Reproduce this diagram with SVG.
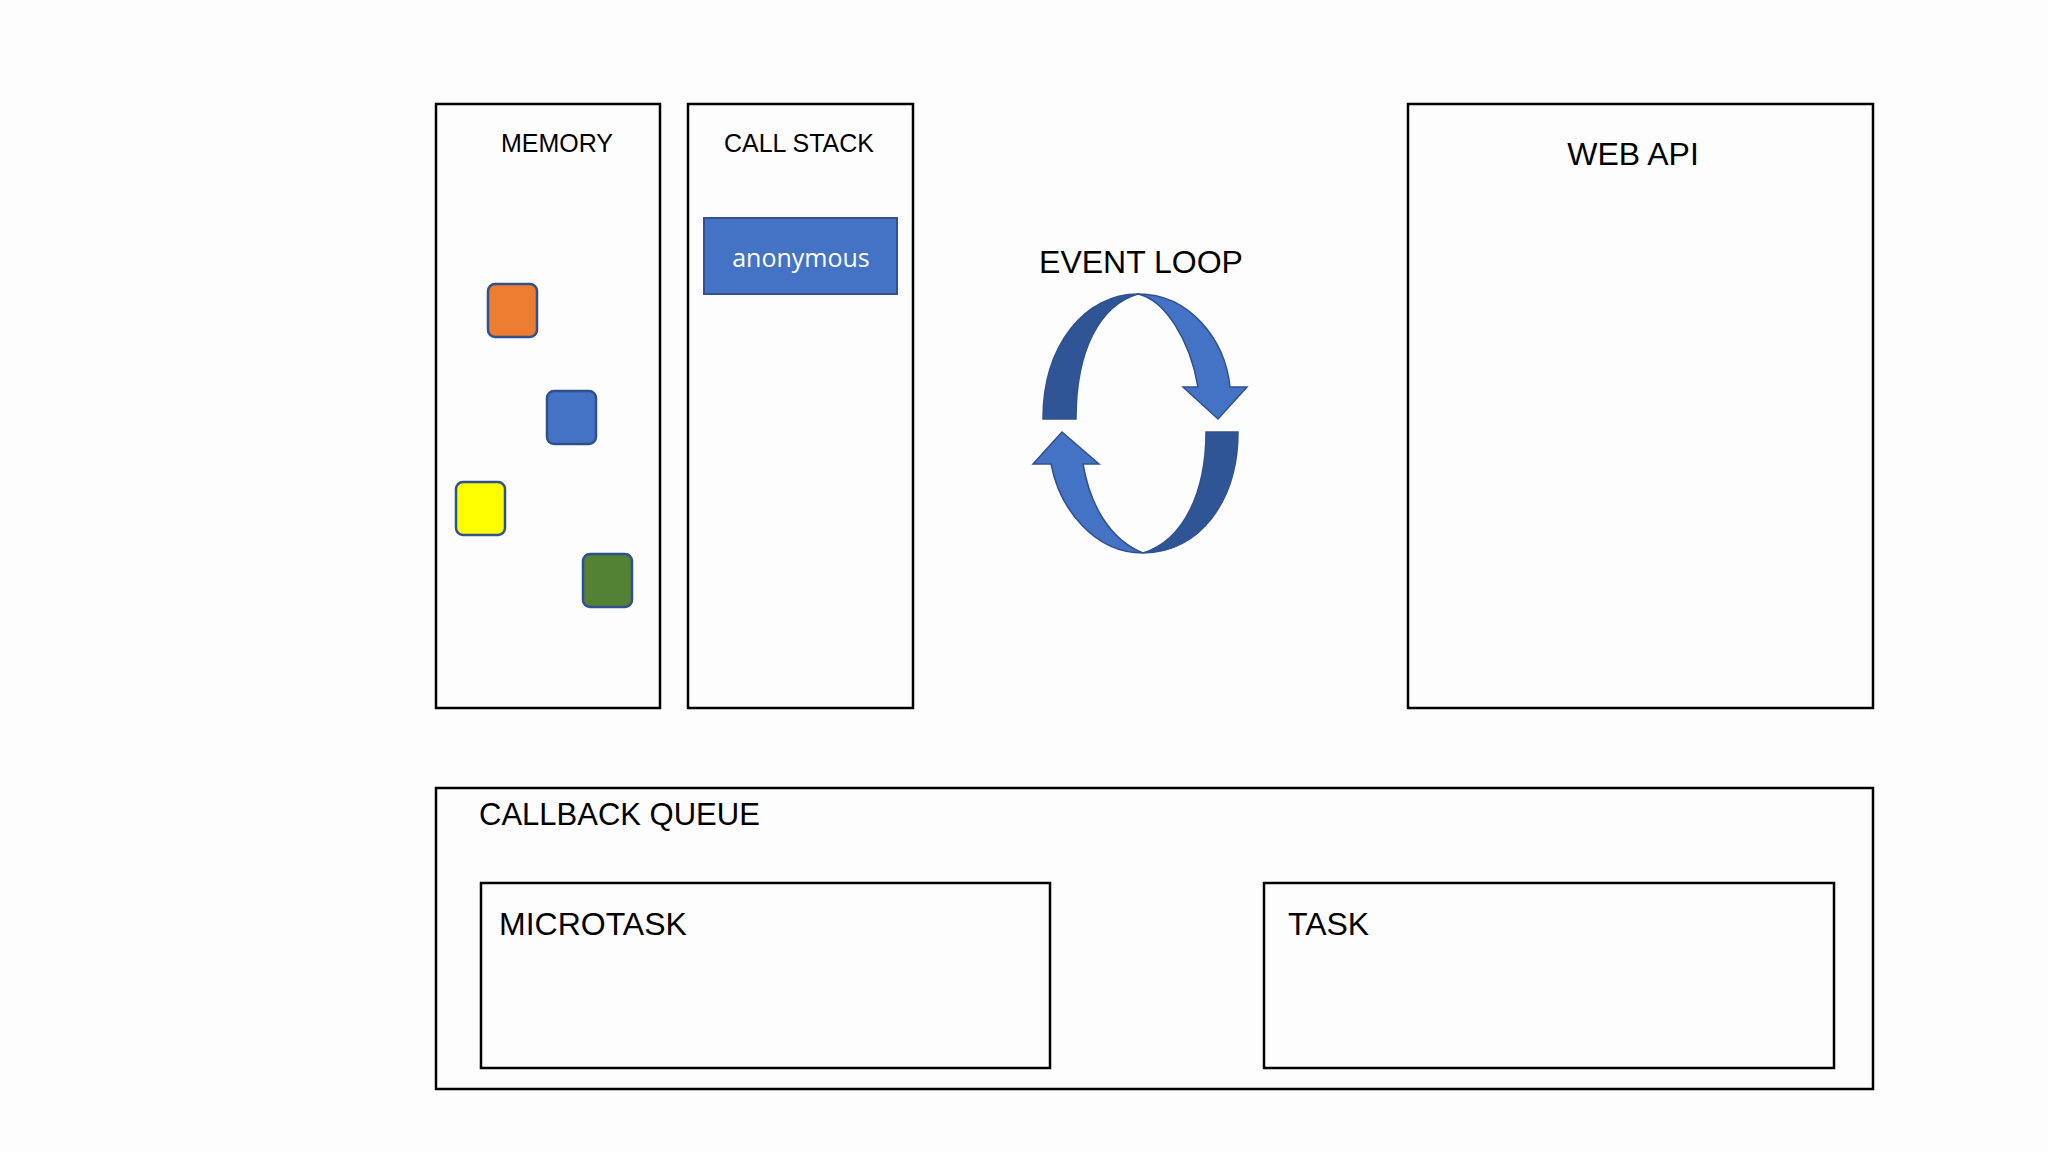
<svg xmlns="http://www.w3.org/2000/svg" width="2048" height="1152" viewBox="0 0 2048 1152">
<style>
.box{fill:none;stroke:#000;stroke-width:2.5}
.t{font-family:"Liberation Sans",Arial,sans-serif;fill:#000}
.sq{stroke:#2f528f;stroke-width:2.5}
.ar{stroke:#2f528f;stroke-width:1.5;stroke-linejoin:miter}
</style>
<rect width="2048" height="1152" fill="#fdfdfd"/>
<g id="memory">
<rect class="box" x="436" y="104" width="224" height="604"/>
<text class="t" x="557" y="152" font-size="25" text-anchor="middle">MEMORY</text>
<rect class="sq" x="488" y="284" width="49" height="53" rx="7" fill="#ed7d31"/>
<rect class="sq" x="547" y="391" width="49" height="53" rx="7" fill="#4472c4"/>
<rect class="sq" x="456" y="482" width="49" height="53" rx="7" fill="#ffff00"/>
<rect class="sq" x="583" y="554" width="49" height="53" rx="7" fill="#548235"/>
</g>
<g id="callstack">
<rect class="box" x="688" y="104" width="225" height="604"/>
<text class="t" x="799" y="152" font-size="25" text-anchor="middle">CALL STACK</text>
<rect x="704" y="218" width="193" height="76" fill="#4472c4" stroke="#2f528f" stroke-width="2"/>
<text x="801" y="267" font-size="25" text-anchor="middle" fill="#fff" font-family="'Open Sans',sans-serif">anonymous</text>
</g>
<g id="eventloop">
<text class="t" x="1141" y="273" font-size="32" text-anchor="middle">EVENT LOOP</text>
<path class="ar" d="M1043,419 C1043,345 1085,294 1138,294 C1100,305 1076,350 1076,419 Z" fill="#2f5597"/>
<path class="ar" d="M1138,294 C1190,294 1225,340 1230,387 L1247,387 L1218,419 L1183,387 L1198,387 C1190,340 1165,300 1138,294 Z" fill="#4472c4"/>
<path class="ar" d="M1206,432 L1238,432 C1238,500 1200,553 1143,553 C1185,540 1206,490 1206,432 Z" fill="#2f5597"/>
<path class="ar" d="M1143,553 C1095,553 1060,510 1051,464 L1033,464 L1062,432 L1099,464 L1083,464 C1090,505 1110,540 1143,553 Z" fill="#4472c4"/>
</g>
<g id="webapi">
<rect class="box" x="1408" y="104" width="465" height="604"/>
<text class="t" x="1633" y="165" font-size="32" text-anchor="middle">WEB API</text>
</g>
<g id="callbackqueue">
<rect class="box" x="436" y="788" width="1437" height="301"/>
<text class="t" x="479" y="825" font-size="31">CALLBACK QUEUE</text>
</g>
<g id="microtask">
<rect class="box" x="481" y="883" width="569" height="185"/>
<text class="t" x="499" y="935" font-size="32">MICROTASK</text>
</g>
<g id="task">
<rect class="box" x="1264" y="883" width="570" height="185"/>
<text class="t" x="1288" y="935" font-size="32">TASK</text>
</g>
<g id="connectors"/>
</svg>
